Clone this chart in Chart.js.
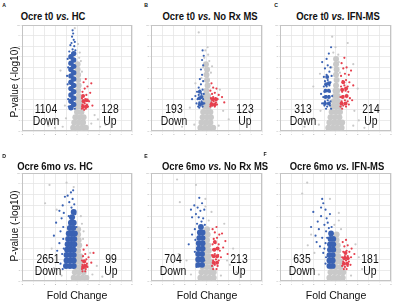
<!DOCTYPE html>
<html>
<head>
<meta charset="utf-8">
<script src="https://cdn.jsdelivr.net/npm/chart.js@4.4.1/dist/chart.umd.min.js"></script>
<style>
  body { margin: 0; width: 400px; height: 306px; background: #fff; position: relative; overflow: hidden;
         font-family: "Liberation Sans", Arial, sans-serif; color: #111; }
  canvas { position: absolute; }
  .lbl { position: absolute; white-space: nowrap; transform: translate(-50%, -50%) scaleX(.86); line-height: 1; }
  .title { font-weight: bold; font-size: 11px; }
  .count { font-size: 13px; transform: translate(-50%, -50%) scaleX(.8); }
  .letter { font-weight: bold; font-size: 6px; }
  .ylab { font-size: 10px; transform: translate(-50%, -50%) rotate(-90deg); }
  .xlab { font-size: 11.5px; transform: translate(-50%, -50%) scaleX(.92); }
</style>
</head>
<body>
<script>
// panel text
const titles = ['Ocre t0 vs. HC', 'Ocre t0 vs. No Rx MS', 'Ocre t0 vs. IFN-MS',
                'Ocre 6mo vs. HC', 'Ocre 6mo vs. No Rx MS', 'Ocre 6mo vs. IFN-MS'];
const letters = ['A', 'B', 'C', 'D', 'E', 'F'];
const downCounts = [1104, 193, 313, 2651, 704, 635];
const upCounts = [128, 123, 214, 99, 213, 181];

// axis ranges (fold change, -log10 p)
const xMin = -5, xMax = 5, yMin = 0, yMax = 10;

// ---- panel A ----
const grayCoreA = [[-0.35,0.3],[0.05,0.3],[0.45,0.3],[0.8,0.3],[-0.25,0.8],[0.15,0.8],[0.55,0.8],
  [-0.15,1.3],[0.25,1.3],[0.6,1.3],[0,1.8],[0.4,1.8],[0.05,2.3],[0.35,2.3],[0.1,2.8],[0.3,2.8],
  [0.15,3.3],[0.1,3.8],[0.15,4.3],[0.1,4.8],[0.1,5.3],[0.05,5.8],[0.05,6.3]];
const grayA = [[-1.5,5.7],[-1.0,1.2],[1.3,0.7],[1.6,1.5],[-1.3,0.4],[2.1,0.4],[-2.0,0.3],[0.25,7.4],
  [0.1,8.2],[0.2,6.9],[-1.1,2.4],[1.9,1.1],[-0.2,9.7],[0.35,6.6],[2.6,0.6],[-2.6,0.5],[-1.7,1.0],[0.45,5.6]];
const blueCoreA = [[-0.55,2.2],[-0.55,2.8],[-0.55,3.4],[-0.55,4.0],[-0.55,4.6],[-0.55,5.2],[-0.55,5.8],
  [-0.55,6.4],[-0.55,7.0],[-0.3,2.5],[-0.3,3.1],[-0.3,3.7],[-0.3,4.3],[-0.3,4.9],[-0.3,5.5],[-0.3,6.1],
  [-0.3,6.7],[-0.3,7.3]];
const blueA = [[-0.4,7.7],[-0.25,8.0],[-0.5,8.3],[-0.3,8.6],[-0.45,8.9],[-0.35,9.2],[-0.4,9.5],[-0.8,6.0],
  [-0.85,4.4],[-0.8,3.0],[-0.9,5.2],[-0.15,7.6],[-0.7,7.5],[-0.6,8.1],[-0.2,8.4],[-0.75,2.3],[-0.2,2.1],
  [-0.85,6.8]];
const redCoreA = [[0.55,2.3],[0.85,2.3],[0.6,2.8],[0.9,2.9],[0.55,3.3]];
const redA = [[0.45,2.1],[0.6,2.2],[0.8,2.1],[1.0,2.3],[0.5,2.5],[0.7,2.6],[0.9,2.5],[0.55,2.9],[0.75,3.0],
  [1.1,2.8],[0.6,3.3],[0.85,3.4],[0.5,3.7],[1.2,3.6],[0.7,4.0],[0.95,4.2],[0.6,4.6],[1.3,4.5],[0.8,4.9],
  [1.4,2.4],[0.45,3.1],[0.65,2.0]];

// ---- panel B ----
const grayCoreB = [[-0.55,0.3],[-0.15,0.3],[0.25,0.3],[0.6,0.3],[-0.45,0.8],[-0.05,0.8],[0.35,0.8],
  [-0.35,1.3],[0.05,1.3],[0.4,1.3],[-0.3,1.8],[0.05,1.8],[0.35,1.8],[-0.15,2.3],[0.2,2.3],[-0.1,2.8],
  [0.2,2.8],[-0.05,3.3],[0.15,3.3],[0,3.8],[0.1,4.3],[0.05,4.8],[0,5.3],[0.05,5.8],[-0.05,6.3]];
const grayB = [[-0.2,6.9],[0.15,7.2],[-0.1,7.6],[0.25,6.6],[-0.7,9.3],[-1.5,2.2],[1.5,1.9],[-1.1,0.6],
  [1.1,0.5],[2.0,1.1],[-2.2,0.4],[0.4,5.5],[-0.45,5.0],[1.2,3.9],[-1.0,4.5],[0.5,6.1],[-0.3,6.0],[0.1,7.9]];
const blueCoreB = [[-0.6,2.5],[-0.4,2.6],[-0.65,3.1],[-0.45,3.2],[-0.6,3.7]];
const blueB = [[-0.75,2.3],[-0.55,2.4],[-0.35,2.3],[-0.65,2.7],[-0.45,2.8],[-0.8,3.0],[-0.55,3.1],
  [-0.3,3.0],[-0.7,3.4],[-0.45,3.5],[-0.85,3.7],[-0.6,3.8],[-0.35,3.9],[-0.7,4.1],[-0.5,4.4],[-0.3,4.7],
  [-0.6,4.9],[-0.4,5.3],[-0.5,5.8],[-0.3,6.2],[-0.4,6.7],[-0.25,7.1],[-0.35,7.6],[-0.9,2.6],[-1.0,3.3],
  [-0.2,2.6],[-0.25,3.5],[-1.3,3.0],[-0.65,2.2]];
const redCoreB = [[0.45,2.5],[0.75,2.5],[0.55,3.0],[0.85,3.0]];
const redB = [[0.35,2.3],[0.55,2.4],[0.75,2.3],[0.95,2.5],[0.45,2.7],[0.65,2.8],[0.85,2.7],[0.4,3.1],
  [0.6,3.2],[0.8,3.1],[1.0,3.0],[0.5,3.5],[0.75,3.6],[0.35,3.8],[1.1,3.4],[0.6,4.1],[1.4,3.2],[0.45,4.5],
  [0.9,4.0],[1.6,2.7]];

// ---- panel C ----
const grayCoreC = [[-0.65,0.3],[-0.25,0.3],[0.15,0.3],[0.55,0.3],[-0.55,0.8],[-0.15,0.8],[0.25,0.8],
  [0.6,0.8],[-0.45,1.3],[-0.05,1.3],[0.35,1.3],[-0.35,1.8],[0.05,1.8],[0.4,1.8],[-0.25,2.3],[0.1,2.3],
  [0.35,2.3],[-0.15,2.8],[0.2,2.8],[-0.05,3.3],[0.2,3.3],[0,3.8],[0.15,3.8],[0.05,4.3],[0.1,4.8],
  [0.05,5.3],[0.1,5.8],[0.05,6.3],[0.05,6.8]];
const grayC = [[-0.3,8.9],[1.1,8.3],[-0.2,7.4],[0.25,7.2],[0.3,6.5],[-0.35,6.0],[0.4,5.5],[-1.5,0.6],
  [1.6,0.5],[-2.0,1.2],[2.1,1.0],[-1.35,1.9],[1.7,1.9],[-1.4,5.4],[1.6,6.3],[2.0,4.0],[-2.0,4.2],
  [2.6,0.3],[-2.8,0.4],[0.0,7.9]];
const blueCoreC = [[-0.95,2.6],[-0.6,2.6],[-0.9,3.2],[-0.6,3.2],[-0.9,3.8],[-0.6,3.8],[-0.85,4.4],
  [-0.6,4.5],[-0.75,5.1]];
const blueC = [[-1.0,2.4],[-0.75,2.3],[-0.5,2.4],[-0.95,2.8],[-0.7,2.9],[-0.45,2.8],[-1.1,3.2],
  [-0.85,3.3],[-0.6,3.3],[-1.0,3.7],[-0.75,3.8],[-0.5,3.7],[-1.05,4.2],[-0.8,4.2],[-0.55,4.3],
  [-0.95,4.7],[-0.7,4.8],[-0.45,4.6],[-1.05,5.1],[-0.8,5.3],[-0.55,5.6],[-0.95,5.9],[-0.7,6.2],
  [-0.45,6.0],[-0.8,6.8],[-0.6,7.3],[-1.2,6.5],[-0.4,7.9],[-1.3,3.5],[-1.2,2.6],[-0.4,2.1],[-0.85,2.1],
  [-0.35,5.2],[-0.3,3.3]];
const redCoreC = [[0.55,2.6],[0.9,2.6],[0.65,3.2],[1.0,3.3],[0.6,3.9],[0.95,4.0],[0.7,4.6]];
const redC = [[0.45,2.3],[0.7,2.4],[0.95,2.3],[1.2,2.5],[0.55,2.8],[0.85,2.9],[1.1,2.8],[0.45,3.2],
  [0.7,3.3],[1.0,3.3],[1.3,3.1],[0.6,3.7],[0.9,3.8],[1.15,3.7],[0.5,4.2],[0.8,4.3],[1.1,4.2],[0.65,4.7],
  [0.95,4.8],[1.25,4.6],[0.5,5.2],[0.85,5.4],[1.2,5.3],[0.7,5.9],[1.0,6.0],[0.55,6.4],[1.4,5.7],
  [0.8,6.9],[1.6,4.3],[1.5,2.9],[0.6,2.1]];

// ---- panel D ----
const grayCoreD = [[-0.3,0.3],[0.1,0.3],[0.5,0.3],[0.85,0.3],[-0.2,0.8],[0.2,0.8],[0.6,0.8],[-0.1,1.3],
  [0.25,1.3],[0.55,1.3],[0,1.8],[0.3,1.8],[0.05,2.3],[0.3,2.3],[0.1,2.8],[0.2,3.3],[0.15,3.8],[0.1,4.3],
  [0.1,4.8]];
const grayD = [[-2.5,8.9],[-0.95,9.1],[-2.9,7.2],[-1.85,6.6],[0.45,5.3],[0.55,3.9],[-1.4,0.5],[1.4,0.6],
  [1.8,1.4],[-2.1,1.2],[0.35,6.0],[-2.3,3.0],[2.3,0.4],[1.2,2.6],[0.6,4.6],[-0.3,8.7]];
const blueCoreD = [[-1.0,1.4],[-0.65,1.4],[-0.3,1.4],[-0.95,1.9],[-0.6,1.9],[-0.3,1.9],[-0.95,2.4],
  [-0.6,2.4],[-0.3,2.4],[-0.9,2.9],[-0.6,2.9],[-0.3,2.9],[-0.85,3.4],[-0.55,3.4],[-0.25,3.4],[-0.8,3.9],
  [-0.5,3.9],[-0.25,3.9],[-0.75,4.4],[-0.45,4.4],[-0.2,4.4],[-0.65,4.9],[-0.35,4.9],[-0.55,5.4],
  [-0.3,5.4],[-0.45,5.9],[-0.3,6.4]];
const blueD = [[-0.5,6.8],[-0.25,7.1],[-0.7,7.3],[-0.4,7.6],[-0.85,7.9],[-0.55,8.2],[-0.35,8.4],
  [-1.3,7.0],[-1.6,6.5],[-1.4,5.8],[-1.9,5.4],[-1.5,4.6],[-1.6,3.5],[-1.35,2.5],[-1.5,1.6],[-1.2,6.3],
  [-0.15,6.2],[-1.1,7.8],[-2.1,4.2],[-1.3,1.1],[-0.75,6.0],[-1.25,5.0],[-1.25,3.9],[-1.2,3.0],
  [-0.05,5.0],[-1.8,2.8]];
const redCoreD = [[0.55,1.3],[0.8,1.4],[0.65,1.8]];
const redD = [[0.45,1.1],[0.6,1.2],[0.8,1.1],[0.95,1.3],[0.5,1.5],[0.7,1.5],[0.9,1.6],[0.45,1.9],
  [0.65,1.9],[0.85,2.0],[0.55,2.3],[0.75,2.5],[1.05,2.2],[0.6,2.9],[0.9,3.3],[1.3,1.7],[1.5,2.6],
  [0.5,0.9],[0.75,0.9]];

// ---- panel E ----
const grayCoreE = [[-0.55,0.3],[-0.15,0.3],[0.25,0.3],[0.65,0.3],[-0.45,0.8],[-0.05,0.8],[0.35,0.8],
  [0.65,0.8],[-0.35,1.3],[0.05,1.3],[0.4,1.3],[-0.2,1.8],[0.15,1.8],[0.4,1.8],[-0.1,2.3],[0.2,2.3],
  [-0.05,2.8],[0.2,2.8],[0,3.3],[0.15,3.3],[0.05,3.8],[0.1,4.3],[0.05,4.8]];
const grayE = [[-2.65,9.4],[-0.95,8.9],[-2.4,7.3],[-0.1,7.6],[0.45,6.4],[1.85,1.9],[2.1,1.5],[1.3,0.5],
  [-1.4,0.6],[-1.8,1.9],[2.4,3.0],[-0.1,6.9],[0.2,5.6],[2.7,0.8],[-2.5,2.5],[1.6,5.3]];
const blueCoreE = [[-0.75,1.5],[-0.4,1.5],[-0.75,2.0],[-0.4,2.0],[-0.75,2.5],[-0.4,2.5],[-0.7,3.0],
  [-0.35,3.0],[-0.7,3.5],[-0.35,3.5],[-0.65,4.0],[-0.35,4.0],[-0.6,4.5],[-0.35,4.5],[-0.5,5.0]];
const blueE = [[-0.85,5.3],[-0.45,5.5],[-0.7,5.9],[-0.3,5.8],[-0.95,6.2],[-0.55,6.5],[-0.8,6.8],
  [-0.4,7.2],[-1.1,7.0],[-1.05,4.8],[-1.0,3.8],[-1.05,2.7],[-1.3,4.3],[-0.2,6.6],[-1.3,5.9],[-0.15,5.2],
  [-0.65,7.7],[-0.9,1.3],[-0.2,1.9],[-1.6,3.4],[-1.4,6.6]];
const redCoreE = [[0.65,1.7],[0.95,1.7],[0.65,2.3],[0.95,2.3],[0.7,2.9],[1.0,3.0],[0.75,3.6]];
const redE = [[0.5,1.4],[0.75,1.5],[1.0,1.4],[0.6,1.9],[0.85,2.0],[1.1,1.9],[0.5,2.4],[0.75,2.5],
  [1.05,2.4],[0.6,2.9],[0.9,3.0],[1.2,2.8],[0.55,3.4],[0.8,3.5],[1.1,3.4],[0.65,3.9],[0.95,4.0],
  [0.75,4.5],[1.15,4.3],[0.55,4.8],[0.9,5.0],[1.5,3.1],[1.7,3.7],[1.4,4.4],[0.6,1.1],[0.9,1.1],
  [1.3,2.2],[1.9,2.5]];

// ---- panel F ----
const grayCoreF = [[-0.55,0.3],[-0.15,0.3],[0.25,0.3],[0.65,0.3],[-0.45,0.8],[-0.05,0.8],[0.35,0.8],
  [0.7,0.8],[-0.35,1.3],[0.05,1.3],[0.45,1.3],[-0.25,1.8],[0.15,1.8],[0.45,1.8],[-0.1,2.3],[0.25,2.3],
  [0,2.8],[0.25,2.8],[0.05,3.3],[0.2,3.3],[0.1,3.8],[0.1,4.3]];
const grayF = [[-2.55,9.1],[-3.0,8.1],[-0.5,7.6],[0.3,5.6],[0.5,4.8],[-2.2,4.3],[1.8,3.4],[2.1,2.2],
  [1.4,0.5],[-1.5,0.6],[-1.9,2.6],[0.3,6.3],[2.4,1.1],[-2.5,3.3],[-0.1,5.2]];
const blueCoreF = [[-0.55,1.4],[-0.25,1.4],[-0.55,1.9],[-0.25,1.9],[-0.55,2.4],[-0.25,2.4],[-0.5,2.9],
  [-0.2,2.9],[-0.5,3.4],[-0.2,3.4],[-0.45,3.9],[-0.2,3.9],[-0.4,4.4]];
const blueF = [[-1.2,7.6],[-1.1,7.2],[-2.0,6.4],[-1.6,5.5],[-1.3,6.0],[-0.9,6.6],[-1.5,4.8],[-1.0,5.2],
  [-1.8,4.2],[-0.7,5.4],[-1.2,4.0],[-1.4,3.2],[-0.35,5.0],[-0.85,4.6],[-0.8,5.8],[-1.1,2.6],[-0.9,1.6],
  [-1.3,6.8],[-0.5,6.2],[-2.2,5.0],[-1.7,3.6],[-0.9,3.5],[-0.85,2.2],[-1.0,3.0],[-0.75,4.0],[-0.6,4.9]];
const redCoreF = [[0.75,1.6],[1.05,1.6],[0.8,2.1],[1.1,2.1],[0.9,2.6]];
const redF = [[0.6,1.4],[0.85,1.3],[1.1,1.4],[1.35,1.5],[0.7,1.8],[0.95,1.9],[1.2,1.8],[0.6,2.2],
  [0.85,2.3],[1.1,2.3],[1.4,2.2],[0.7,2.7],[1.0,2.8],[1.25,2.7],[0.8,3.2],[1.1,3.3],[0.65,3.6],
  [1.45,3.0],[0.95,3.8],[1.7,2.5],[0.75,1.1],[1.0,1.1]];

const panels = [
  { grayCore: grayCoreA, gray: grayA, blueCore: blueCoreA, blue: blueA, redCore: redCoreA, red: redA },
  { grayCore: grayCoreB, gray: grayB, blueCore: blueCoreB, blue: blueB, redCore: redCoreB, red: redB },
  { grayCore: grayCoreC, gray: grayC, blueCore: blueCoreC, blue: blueC, redCore: redCoreC, red: redC },
  { grayCore: grayCoreD, gray: grayD, blueCore: blueCoreD, blue: blueD, redCore: redCoreD, red: redD },
  { grayCore: grayCoreE, gray: grayE, blueCore: blueCoreE, blue: blueE, redCore: redCoreE, red: redE },
  { grayCore: grayCoreF, gray: grayF, blueCore: blueCoreF, blue: blueF, redCore: redCoreF, red: redF },
];

// layout: plot area [left, top, width, height] per panel
const plotBoxes = [[22,25,111,106],[151,25,112,106],[280,25,112,106],
                   [22,173,111,108],[151,173,112,108],[280,173,112,108]];
const titlePos = [[53,16],[210,16],[338,16],[55,166],[215,166],[337,166]];
const letterPos = [[4,5],[146,5],[276,5],[4,156],[146,156],[265,154]];
const downPos = [46,174,303,48,173,302];
const upPos = [110,245,371,111,239,370];
const blueCoreRadius = [2.7, 2, 2, 3, 2.9, 2.9];

const GRAY = '#c9c9c9', BLUE = '#3a62b3', RED = '#e6404e';

function addText(cls, html, x, y) {
  const d = document.createElement('div');
  d.className = 'lbl ' + cls;
  d.innerHTML = html;
  d.style.left = x + 'px';
  d.style.top = y + 'px';
  document.body.appendChild(d);
}

const frame = {
  id: 'frame',
  beforeDatasetsDraw(chart) {
    const a = chart.chartArea, ctx = chart.ctx;
    ctx.save();
    ctx.strokeStyle = '#c4c4c4';
    ctx.lineWidth = 1;
    ctx.strokeRect(a.left + 0.5, a.top + 0.5, a.right - a.left - 1, a.bottom - a.top - 1);
    ctx.restore();
  }
};

const pts = arr => arr.map(p => ({ x: p[0], y: p[1] }));
const ds = (arr, color, r) => ({ data: pts(arr), backgroundColor: color, borderColor: color,
                                 pointRadius: r, pointBorderWidth: 0, pointHoverRadius: r });

panels.forEach((p, i) => {
  const [L, T, W, H] = plotBoxes[i];
  const cv = document.createElement('canvas');
  cv.width = W + 8; cv.height = H + 8;
  cv.style.left = (L - 6) + 'px'; cv.style.top = (T - 3) + 'px';
  cv.style.width = (W + 8) + 'px'; cv.style.height = (H + 8) + 'px';
  document.body.appendChild(cv);

  new Chart(cv, {
    type: 'scatter',
    data: {
      // first dataset is drawn on top
      datasets: [
        ds(p.red, RED, 1.1),
        ds(p.redCore, RED, 2),
        ds(p.blue, BLUE, 1.1),
        ds(p.blueCore, BLUE, blueCoreRadius[i]),
        ds(p.gray, GRAY, 1.1),
        ds(p.grayCore, GRAY, 3),
      ]
    },
    options: {
      responsive: false,
      animation: false,
      events: [],
      layout: { padding: { top: 3, right: 2 } },
      plugins: { legend: { display: false }, tooltip: { enabled: false } },
      scales: {
        x: {
          min: xMin, max: xMax,
          afterFit: s => { s.height = 5; },
          ticks: { stepSize: 1, font: { size: 2.5 }, color: '#999', padding: 0.5, maxRotation: 0 },
          grid: { color: '#e6e6e6', tickLength: 1.5, lineWidth: 0.8 },
          border: { display: false }
        },
        y: {
          min: yMin, max: yMax,
          afterFit: s => { s.width = 6; },
          ticks: { stepSize: 1, font: { size: 2.5 }, color: '#999', padding: 0.5 },
          grid: { color: '#e6e6e6', tickLength: 1.5, lineWidth: 0.8 },
          border: { display: false }
        }
      }
    },
    plugins: [frame]
  });

  addText('title', titles[i].replace(' vs. ', ' <i>vs.</i> '), titlePos[i][0], titlePos[i][1]);
  addText('letter', letters[i], letterPos[i][0], letterPos[i][1]);
  const base = T + H;
  addText('count', downCounts[i], downPos[i], base - 23);
  addText('count', 'Down', downPos[i], base - 11);
  addText('count', upCounts[i], upPos[i], base - 23);
  addText('count', 'Up', upPos[i], base - 11);
});

addText('ylab', 'P-value (-log10)', 15, 82);
addText('ylab', 'P-value (-log10)', 15, 226);
addText('xlab', 'Fold Change', 77, 296);
addText('xlab', 'Fold Change', 207, 296);
addText('xlab', 'Fold Change', 336, 296);
</script>
</body>
</html>
